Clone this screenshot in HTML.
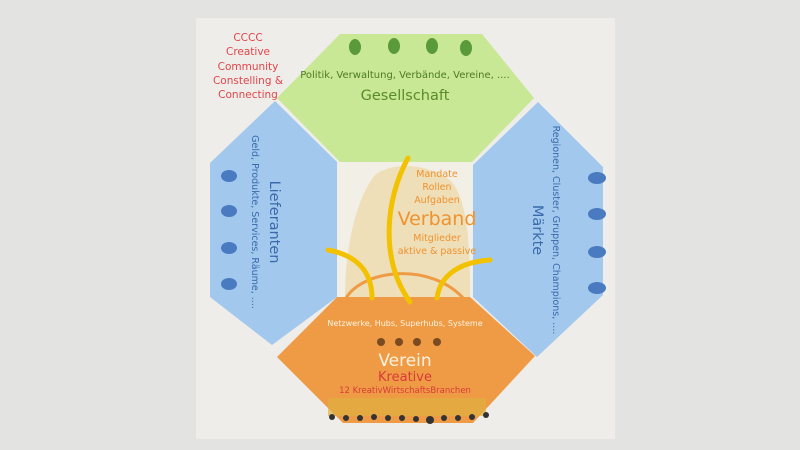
<!DOCTYPE html>
<html><head><meta charset="utf-8"><style>
html,body{margin:0;padding:0;width:800px;height:450px;overflow:hidden;background:#e3e3e1;}
svg{display:block}
text{font-family:"DejaVu Sans","Liberation Sans",sans-serif}
</style></head><body>
<svg width="800" height="450" viewBox="0 0 800 450">
<rect x="196" y="18" width="419" height="421" fill="#efede9"/>
<polygon points="340,34 482,34 534,98 472,162 340,162 277,98" fill="#c8e895"/>
<polygon points="275,101 337,162 337,297 272,345 210,297 210,163" fill="#a2c8ee"/>
<polygon points="538,102 603,167 603,295 537,357 473,297 473,165" fill="#a2c8ee"/>
<rect x="338" y="162" width="134" height="135" fill="#f2efe6"/>
<path d="M345,297 C345,250 355,200 375,175 C395,160 430,165 450,180 C470,200 470,260 470,297 Z" fill="#eedfb8"/>
<polygon points="337,297 470,297 535,356 473,423 343,423 277,357" fill="#ef9b45"/>
<path d="M345,300 C360,270 430,260 465,300" fill="none" stroke="#ef9b45" stroke-width="3"/>
<g fill="none" stroke="#f2c200" stroke-width="5" stroke-linecap="round">
<path d="M408,158 C385,200 380,260 410,302"/>
<path d="M328,250 C355,255 372,270 372,298"/>
<path d="M490,260 C460,262 440,275 437,298"/>
</g>
<g>
<ellipse cx="355" cy="47" rx="6" ry="8" fill="#5a9a3a"/><ellipse cx="394" cy="46" rx="6" ry="8" fill="#5a9a3a"/><ellipse cx="432" cy="46" rx="6" ry="8" fill="#5a9a3a"/><ellipse cx="466" cy="48" rx="6" ry="8" fill="#5a9a3a"/>
<ellipse cx="229" cy="176" rx="8" ry="6" fill="#4a7ac0"/><ellipse cx="229" cy="211" rx="8" ry="6" fill="#4a7ac0"/><ellipse cx="229" cy="248" rx="8" ry="6" fill="#4a7ac0"/><ellipse cx="229" cy="284" rx="8" ry="6" fill="#4a7ac0"/>
<ellipse cx="597" cy="178" rx="9" ry="6" fill="#4a7ac0"/><ellipse cx="597" cy="214" rx="9" ry="6" fill="#4a7ac0"/><ellipse cx="597" cy="252" rx="9" ry="6" fill="#4a7ac0"/><ellipse cx="597" cy="288" rx="9" ry="6" fill="#4a7ac0"/>
</g>
<g fill="#7a4a20">
<circle cx="381" cy="342" r="4"/><circle cx="399" cy="342" r="4"/><circle cx="417" cy="342" r="4"/><circle cx="437" cy="342" r="4"/>
</g>
<g>
<rect x="328" y="398" width="158" height="18" fill="#e0b040" opacity="0.7"/>
<g fill="#333"><circle cx="332" cy="417" r="3"/><circle cx="346" cy="418" r="3"/><circle cx="360" cy="418" r="3"/><circle cx="374" cy="417" r="3"/><circle cx="388" cy="418" r="3"/><circle cx="402" cy="418" r="3"/><circle cx="416" cy="419" r="3"/><circle cx="430" cy="420" r="4"/><circle cx="444" cy="418" r="3"/><circle cx="458" cy="418" r="3"/><circle cx="472" cy="417" r="3"/><circle cx="486" cy="415" r="3"/></g>
</g>
<g fill="#e0454a" font-size="10.5" text-anchor="middle">
<text x="248" y="41">CCCC</text><text x="248" y="55">Creative</text><text x="248" y="70">Community</text><text x="248" y="84">Constelling &amp;</text><text x="248" y="98">Connecting</text>
</g>
<text x="405" y="78" font-size="10" fill="#4e7a23" text-anchor="middle">Politik, Verwaltung, Verbände, Vereine, ....</text>
<text x="405" y="100" font-size="14.5" fill="#5a8a2a" text-anchor="middle">Gesellschaft</text>
<text transform="translate(252,222) rotate(90)" font-size="9.5" fill="#3a6aaa" text-anchor="middle">Geld, Produkte, Services, Räume, ....</text>
<text transform="translate(270,222) rotate(90)" font-size="14.5" fill="#3a6aaa" text-anchor="middle">Lieferanten</text>
<text transform="translate(553,230) rotate(90)" font-size="9.5" fill="#3a6aaa" text-anchor="middle">Regionen, Cluster, Gruppen, Champions, ....</text>
<text transform="translate(533,230) rotate(90)" font-size="14.5" fill="#3a6aaa" text-anchor="middle">Märkte</text>
<g fill="#f0922e" text-anchor="middle">
<text x="437" y="177" font-size="9.5">Mandate</text>
<text x="437" y="190" font-size="9.5">Rollen</text>
<text x="437" y="203" font-size="9.5">Aufgaben</text>
<text x="437" y="225" font-size="19">Verband</text>
<text x="437" y="241" font-size="9.5">Mitglieder</text>
<text x="437" y="254" font-size="9.5">aktive &amp; passive</text>
</g>
<text x="405" y="326" font-size="8" fill="#fff3e0" text-anchor="middle">Netzwerke, Hubs, Superhubs, Systeme</text>
<text x="405" y="366" font-size="17" fill="#fff3e0" text-anchor="middle">Verein</text>
<text x="405" y="381" font-size="13" fill="#d83a3a" text-anchor="middle">Kreative</text>
<text x="405" y="393" font-size="8.5" fill="#d83a3a" text-anchor="middle">12 KreativWirtschaftsBranchen</text>
</svg>
</body></html>
